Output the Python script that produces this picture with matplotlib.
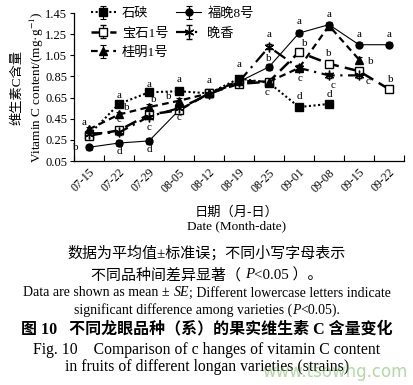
import matplotlib
matplotlib.use("Agg")
import matplotlib.pyplot as plt
import matplotlib.transforms as mtransforms
import numpy as np

plt.rcParams['font.family'] = ['Liberation Serif', 'Noto Sans CJK SC', 'DejaVu Sans']
plt.rcParams['mathtext.fontset'] = 'stix'

dates = ["07-15", "07-22", "07-29", "08-05", "08-12", "08-19", "08-25",
         "09-01", "09-08", "09-15", "09-22"]

shixia   = [0.30, 0.59, 0.70, 0.71, 0.69, 0.83, 0.79, 0.56, 0.59]
fuwan8   = [0.18, 0.22, 0.24, 0.53, 0.69, 0.80, 0.94, 1.26, 1.34, 1.15, 1.15]
baoshi1  = [0.29, 0.34, 0.49, 0.53, 0.69, 0.78, 0.80, 1.08, 0.97, 0.90, 0.73]
wanxiang = [0.31, 0.32, 0.47, 0.55, 0.68, 0.80, 1.13, 0.93, 0.86, 0.86]
guiming1 = [0.35, 0.49, 0.56, 0.62, 0.69, 0.81, 0.80, 0.93, 1.33, 1.01]

se = 0.025

names = ["石硖", "福晚8号", "宝石1号", "晚香", "桂明1号"]

# significance letters: (date index, letter, value where letter sits)
letter_idx = [0, 0, 1, 1, 1, 1, 2, 2, 2, 2, 3, 3, 3, 4, 5, 6, 6, 6,
              7, 7, 7, 7, 8, 8, 8, 8, 9, 9, 9, 10, 10]
letter_txt = ["a", "b", "a", "b", "c", "d", "a", "b", "c", "d", "a", "b", "c", "a", "a", "a", "b", "c",
              "a", "b", "c", "d", "a", "b", "c", "d", "a", "b", "c", "a", "b"]
letter_val = [0.41, 0.18, 0.67, 0.555, 0.44, 0.14, 0.77, 0.63, 0.37, 0.16, 0.82, 0.66, 0.46, 0.81, 0.96, 1.25, 1.02, 0.70,
              1.37, 1.16, 0.83, 0.66, 1.44, 1.07, 0.76, 0.68, 1.25, 0.99, 0.80, 1.25, 0.82]
letter_dx = [-0.15, -0.45, 0.0, 0.25, 0.0, 0.0, 0.0, 0.15, 0.0, 0.0, 0.0, -0.35, 0.0, 0.0, 0.0, 0.0, 0.0, -0.05,
             0.0, 0.2, 0.05, 0.0, 0.0, 0.0, 0.15, 0.0, 0.0, 0.4, 0.3, 0.0, 0.05]

W, H = 414, 385
fig = plt.figure(figsize=(W / 100, H / 100), dpi=100)
ax = fig.add_axes([74 / W, 1 - 161 / H, 330 / W, 148 / H])

x = np.arange(len(dates))
ebkw = dict(ecolor='black', elinewidth=0.8, capsize=2.0, capthick=0.8)

h0 = ax.errorbar(x[:len(shixia)], shixia, yerr=se, color='black', ls=(0, (1, 1.2)), lw=1.5,
                 marker='s', ms=6, mfc='black', **ebkw)
h1 = ax.errorbar(x[:len(fuwan8)], fuwan8, yerr=se, color='black', ls='-', lw=0.8,
                 marker='o', ms=5, mfc='black', **ebkw)
h2 = ax.errorbar(x[:len(baoshi1)], baoshi1, yerr=se, color='black', ls=(0, (5, 2.5)), lw=1.8,
                 marker='s', ms=5.5, mfc='white', mew=1.0, **ebkw)
h3 = ax.errorbar(x[:len(wanxiang)], wanxiang, yerr=se, color='black', ls=(0, (6, 2.5, 1, 2.5)), lw=1.6,
                 marker=(6, 2, 0), ms=7, mew=1.0, **ebkw)
h4 = ax.errorbar(x[:len(guiming1)], guiming1, yerr=se, color='black', ls=(0, (3, 2)), lw=1.6,
                 marker='^', ms=5.5, mfc='black', **ebkw)

for i, t, v, d in zip(letter_idx, letter_txt, letter_val, letter_dx):
    ax.text(i + d, v, t, ha='center', va='center', fontsize=8)

ax.set_xlim(-0.5, len(dates) - 0.5)
ax.set_ylim(0.05, 1.45)
yt = [0.05, 0.25, 0.45, 0.65, 0.85, 1.05, 1.25, 1.45]
ax.set_yticks(yt)
ax.set_yticklabels([f"{v:.2f}" for v in yt], fontsize=9)
ax.set_xticks(x)
ax.set_xticklabels(dates, fontsize=8.5, rotation=45, ha='right', rotation_mode='anchor')
offset = mtransforms.ScaledTranslation(4 / 100, 0, fig.dpi_scale_trans)
for lab in ax.get_xticklabels():
    lab.set_transform(lab.get_transform() + offset)
ax.set_xticks(np.arange(-0.5, len(dates), 1.0), minor=True)
ax.tick_params(axis='x', which='major', length=0, pad=4)
ax.tick_params(axis='x', which='minor', direction='in', length=4, width=0.8)
ax.tick_params(axis='y', direction='out', length=3, width=0.8, pad=2)
for s in ['top', 'right']:
    ax.spines[s].set_visible(False)
for s in ['left', 'bottom']:
    ax.spines[s].set_linewidth(0.9)

# legend filled column-wise: col1 = 石硖, 宝石1号, 桂明1号 ; col2 = 福晚8号, 晚香
leg = ax.legend([h0, h2, h4, h1, h3], [names[0], names[2], names[4], names[1], names[3]],
                loc='upper left', ncol=2, frameon=False,
                fontsize=9.5, handlelength=1.9, handletextpad=0.45,
                columnspacing=0.6, labelspacing=0.55,
                bbox_to_anchor=(0.035, 1.075), borderaxespad=0)

# y labels
fig.text(17 / W, 1 - 87 / H, "维生素C含量", rotation=90, ha='center', va='center', fontsize=9.5)
fig.text(37 / W, 1 - 87 / H, "Vitamin C content/(mg·g$^{-1}$)", rotation=90,
         ha='center', va='center', fontsize=9.5)

# x labels
cx = 237 / W
fig.text(cx, 1 - 212 / H, "日期（月-日）", ha='center', va='center', fontsize=9.5)
fig.text(cx, 1 - 226 / H, "Date (Month-date)", ha='center', va='center', fontsize=9.5)


def line_pieces(yfrac, pieces, fontsize, xc=0.5, **kw):
    """Draw a centered line made of (text, style) pieces."""
    fig.canvas.draw()
    r = fig.canvas.get_renderer()
    arts = []
    for txt, style in pieces:
        a = fig.text(0, yfrac, txt, ha='left', va='center', fontsize=fontsize, style=style, **kw)
        arts.append(a)
    widths = [a.get_window_extent(r).width for a in arts]
    total = sum(widths)
    xpix = xc * W - total / 2
    for a, w in zip(arts, widths):
        a.set_x(xpix / W)
        xpix += w


# caption
cc = 0.5
fig.text(cc, 1 - 253 / H, "数据为平均值±标准误；不同小写字母表示", ha='center', va='center', fontsize=10.8)
line_pieces(1 - 275 / H, [("不同品种间差异显著（ ", 'normal'), ("P", 'italic'), ("<0.05 ）。", 'normal')], 10.8)
line_pieces(1 - 293 / H, [("Data are shown as mean ± ", 'normal'), ("SE", 'italic'),
                          ("; Different lowercase letters indicate", 'normal')], 10)
line_pieces(1 - 310 / H, [("significant difference among varieties (", 'normal'), ("P", 'italic'),
                          ("<0.05).", 'normal')], 10)
fig.text(cc, 1 - 329 / H, "图 10   不同龙眼品种（系）的果实维生素 C 含量变化",
         ha='center', va='center', fontsize=11.5, fontweight='bold')
fig.text(cc, 1 - 350 / H, "Fig. 10    Comparison of c hanges of vitamin C content",
         ha='center', va='center', fontsize=11.3)
fig.text(cc, 1 - 367 / H, "in fruits of different longan varieties (strains)",
         ha='center', va='center', fontsize=11.3)
fig.text(0.985, 1 - 372 / H, "www.tsowhg.com", ha='right', va='center', fontsize=12,
         color='#6ab04c', alpha=0.5, family='DejaVu Sans')

fig.savefig("out.png", dpi=100)
